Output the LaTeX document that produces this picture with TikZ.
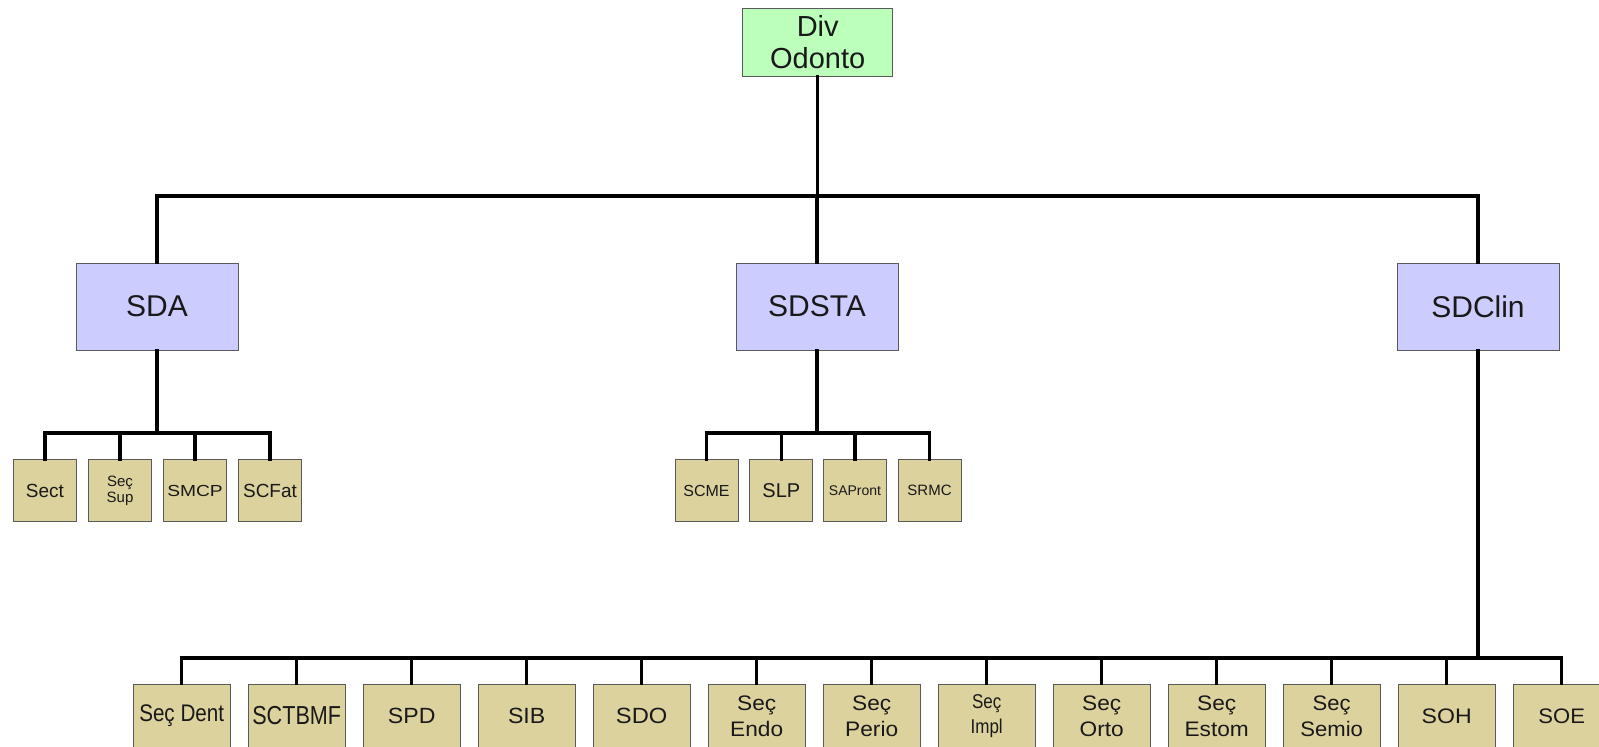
\documentclass[tikz,border=0pt]{standalone}
\usepackage{fontspec}
\usepackage{graphicx}
\setmainfont{Liberation Sans}
\definecolor{divgreen}{RGB}{187,255,187}
\definecolor{sublav}{RGB}{204,204,255}
\definecolor{leaftan}{RGB}{220,210,158}
\definecolor{edgegray}{RGB}{90,90,90}
\newcommand{\fs}[2]{\fontsize{#1}{#2}\selectfont}
\newcommand{\xs}[2]{\scalebox{#1}[1]{#2}}
\tikzset{
  boxbase/.style={draw=edgegray, line width=0.5pt, inner sep=0pt, align=center, text=black!90},
  topbox/.style={boxbase, fill=divgreen, minimum width=75pt, minimum height=34pt, font=\fs{14.5}{16}},
  midbox/.style={boxbase, fill=sublav, minimum width=81pt, minimum height=43.5pt, font=\fs{15}{17}},
  leafbox/.style={boxbase, fill=leaftan, minimum width=31.5pt, minimum height=31pt},
  lowbox/.style={boxbase, fill=leaftan, minimum width=48.5pt, minimum height=32pt},
  bus/.style={line width=1.65pt, black, line cap=rect, line join=miter}
}
\begin{document}
\begin{tikzpicture}[x=0.5pt, y=-0.5pt]
\useasboundingbox (0,0) rectangle (1599,746);
% levels
\coordinate (b1) at (0,196);
\coordinate (b2) at (0,433);
\coordinate (b3) at (0,658);
% top
\node[topbox] (div) at (817.7,42) {Div\\Odonto};
% second level
\node[midbox] (sda) at (157,306.5) {SDA};
\node[midbox] (sdsta) at (817,306.5) {SDSTA};
\node[midbox] (sdclin) at (1478,306.5) {SDClin};
% SDA leaves
\node[leafbox, font=\fs{9.5}{11}] (sect) at (45,490.5) {Sect};
\node[leafbox, font=\fs{7.5}{6.8}] (secsup) at (120,490.5) {Seç\\Sup};
\node[leafbox, font=\fs{8}{9}] (smcp) at (195,490.5) {\xs{1.2}{SMCP}};
\node[leafbox, font=\fs{9.5}{11}] (scfat) at (270,490.5) {SCFat};
% SDSTA leaves
\node[leafbox, font=\fs{8}{9}] (scme) at (706.5,490.5) {SCME};
\node[leafbox, font=\fs{10}{11}] (slp) at (781.3,490.5) {SLP};
\node[leafbox, font=\fs{7}{8}] (sapront) at (855,490.5) {SAPront};
\node[leafbox, font=\fs{7.5}{8}] (srmc) at (929.5,490.5) {SRMC};
% SDClin leaves
\node[lowbox, font=\fs{12}{13}] (secdent) at (181.7,716) {\xs{0.86}{Seç Dent}};
\node[lowbox, font=\fs{13}{14}] (sctbmf) at (296.7,716) {\xs{0.83}{SCTBMF}};
\node[lowbox, font=\fs{11}{12}] (spd) at (411.7,716) {\xs{1.05}{SPD}};
\node[lowbox, font=\fs{11}{12}] (sib) at (526.7,716) {\xs{1.05}{SIB}};
\node[lowbox, font=\fs{11}{12}] (sdo) at (641.7,716) {\xs{1.08}{SDO}};
\node[lowbox, font=\fs{10.5}{13}] (secendo) at (756.7,716) {\xs{1.08}{Seç}\\\xs{1.08}{Endo}};
\node[lowbox, font=\fs{10.5}{13}] (secperio) at (871.7,716) {\xs{1.08}{Seç}\\\xs{1.08}{Perio}};
\node[lowbox, font=\fs{10}{12.5}] (secimpl) at (986.7,716) {\xs{0.85}{Seç}\\\xs{0.85}{Impl}};
\node[lowbox, font=\fs{10.5}{13}] (secorto) at (1101.7,716) {\xs{1.08}{Seç}\\\xs{1.08}{Orto}};
\node[lowbox, font=\fs{10.5}{13}] (secestom) at (1216.7,716) {\xs{1.08}{Seç}\\\xs{1.08}{Estom}};
\node[lowbox, font=\fs{10.5}{13}] (secsemio) at (1331.7,716) {\xs{1.05}{Seç}\\\xs{1.05}{Semio}};
\node[lowbox, font=\fs{10.5}{12}] (soh) at (1446.7,716) {\xs{1.1}{SOH}};
\node[lowbox, font=\fs{10.5}{12}] (soe) at (1561.7,716) {\xs{1.05}{SOE}};
% connectors: level 1
\draw[bus] (div.south) -- (div.south |- b1);
\draw[bus] (sda.north) -- (sda.north |- b1) -- (sdclin.north |- b1) -- (sdclin.north);
\draw[bus] (sdsta.north) -- (sdsta.north |- b1);
% SDA
\draw[bus] (sda.south) -- (sda.south |- b2);
\draw[bus] (sect.north) -- (sect.north |- b2) -- (scfat.north |- b2) -- (scfat.north);
\foreach \n in {secsup,smcp} \draw[bus] (\n.north) -- (\n.north |- b2);
% SDSTA
\draw[bus] (sdsta.south) -- (sdsta.south |- b2);
\draw[bus] (scme.north) -- (scme.north |- b2) -- (srmc.north |- b2) -- (srmc.north);
\foreach \n in {slp,sapront} \draw[bus] (\n.north) -- (\n.north |- b2);
% SDClin
\draw[bus] (sdclin.south) -- (sdclin.south |- b3);
\draw[bus] (secdent.north) -- (secdent.north |- b3) -- (soe.north |- b3) -- (soe.north);
\foreach \n in {sctbmf,spd,sib,sdo,secendo,secperio,secimpl,secorto,secestom,secsemio,soh}
  \draw[bus] (\n.north) -- (\n.north |- b3);
\end{tikzpicture}
\end{document}
